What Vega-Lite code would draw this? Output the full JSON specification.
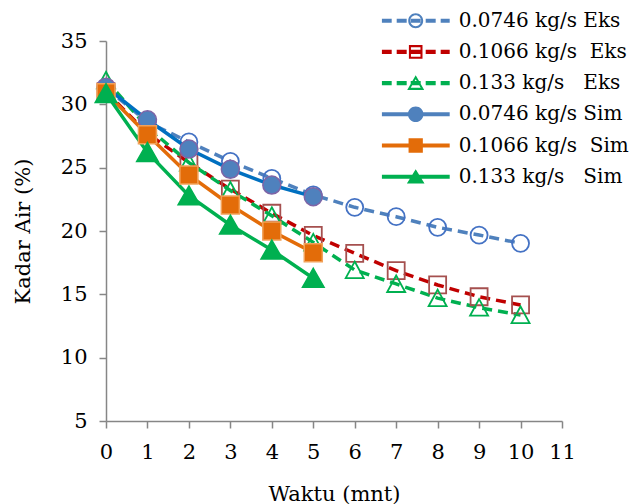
{
  "$schema": "https://vega.github.io/schema/vega-lite/v6.json",
  "width": 456,
  "height": 380,
  "autosize": {"type": "none"},
  "padding": {"left": 106, "top": 41, "right": 82, "bottom": 83},
  "background": "#ffffff",
  "config": {
    "font": "DejaVu Serif",
    "view": {"stroke": null},
    "axis": {
      "grid": false,
      "domainColor": "#868686",
      "domainWidth": 1.5,
      "tickColor": "#868686",
      "tickWidth": 1.5,
      "tickSize": 7,
      "labelFont": "DejaVu Serif",
      "labelFontSize": 21,
      "labelColor": "#000000",
      "titleFont": "DejaVu Serif",
      "titleFontSize": 21,
      "titleFontWeight": "normal",
      "titleColor": "#000000"
    }
  },
  "data": {
    "values": [
      {"t": 0, "kadar": 31.3, "series": "0.0746 kg/s Eks", "kind": "Eks"},
      {"t": 1, "kadar": 28.6, "series": "0.0746 kg/s Eks", "kind": "Eks"},
      {"t": 2, "kadar": 27.03, "series": "0.0746 kg/s Eks", "kind": "Eks"},
      {"t": 3, "kadar": 25.5, "series": "0.0746 kg/s Eks", "kind": "Eks"},
      {"t": 4, "kadar": 24.15, "series": "0.0746 kg/s Eks", "kind": "Eks"},
      {"t": 5, "kadar": 22.85, "series": "0.0746 kg/s Eks", "kind": "Eks"},
      {"t": 6, "kadar": 21.87, "series": "0.0746 kg/s Eks", "kind": "Eks"},
      {"t": 7, "kadar": 21.13, "series": "0.0746 kg/s Eks", "kind": "Eks"},
      {"t": 8, "kadar": 20.29, "series": "0.0746 kg/s Eks", "kind": "Eks"},
      {"t": 9, "kadar": 19.68, "series": "0.0746 kg/s Eks", "kind": "Eks"},
      {"t": 10, "kadar": 19.03, "series": "0.0746 kg/s Eks", "kind": "Eks"},
      {"t": 0, "kadar": 31.0, "series": "0.1066 kg/s Eks", "kind": "Eks"},
      {"t": 1, "kadar": 27.7, "series": "0.1066 kg/s Eks", "kind": "Eks"},
      {"t": 2, "kadar": 25.4, "series": "0.1066 kg/s Eks", "kind": "Eks"},
      {"t": 3, "kadar": 23.3, "series": "0.1066 kg/s Eks", "kind": "Eks"},
      {"t": 4, "kadar": 21.4, "series": "0.1066 kg/s Eks", "kind": "Eks"},
      {"t": 5, "kadar": 19.65, "series": "0.1066 kg/s Eks", "kind": "Eks"},
      {"t": 6, "kadar": 18.24, "series": "0.1066 kg/s Eks", "kind": "Eks"},
      {"t": 7, "kadar": 16.87, "series": "0.1066 kg/s Eks", "kind": "Eks"},
      {"t": 8, "kadar": 15.74, "series": "0.1066 kg/s Eks", "kind": "Eks"},
      {"t": 9, "kadar": 14.81, "series": "0.1066 kg/s Eks", "kind": "Eks"},
      {"t": 10, "kadar": 14.16, "series": "0.1066 kg/s Eks", "kind": "Eks"},
      {"t": 0, "kadar": 31.9, "series": "0.133 kg/s Eks", "kind": "Eks"},
      {"t": 1, "kadar": 28.2, "series": "0.133 kg/s Eks", "kind": "Eks"},
      {"t": 2, "kadar": 25.4, "series": "0.133 kg/s Eks", "kind": "Eks"},
      {"t": 3, "kadar": 23.2, "series": "0.133 kg/s Eks", "kind": "Eks"},
      {"t": 4, "kadar": 21.2, "series": "0.133 kg/s Eks", "kind": "Eks"},
      {"t": 5, "kadar": 19.1, "series": "0.133 kg/s Eks", "kind": "Eks"},
      {"t": 6, "kadar": 16.92, "series": "0.133 kg/s Eks", "kind": "Eks"},
      {"t": 7, "kadar": 15.82, "series": "0.133 kg/s Eks", "kind": "Eks"},
      {"t": 8, "kadar": 14.7, "series": "0.133 kg/s Eks", "kind": "Eks"},
      {"t": 9, "kadar": 13.95, "series": "0.133 kg/s Eks", "kind": "Eks"},
      {"t": 10, "kadar": 13.37, "series": "0.133 kg/s Eks", "kind": "Eks"},
      {"t": 0, "kadar": 31.35, "series": "0.0746 kg/s Sim", "kind": "Sim"},
      {"t": 1, "kadar": 28.78, "series": "0.0746 kg/s Sim", "kind": "Sim"},
      {"t": 2, "kadar": 26.47, "series": "0.0746 kg/s Sim", "kind": "Sim"},
      {"t": 3, "kadar": 24.87, "series": "0.0746 kg/s Sim", "kind": "Sim"},
      {"t": 4, "kadar": 23.63, "series": "0.0746 kg/s Sim", "kind": "Sim"},
      {"t": 5, "kadar": 22.71, "series": "0.0746 kg/s Sim", "kind": "Sim"},
      {"t": 0, "kadar": 30.92, "series": "0.1066 kg/s Sim", "kind": "Sim"},
      {"t": 1, "kadar": 27.6, "series": "0.1066 kg/s Sim", "kind": "Sim"},
      {"t": 2, "kadar": 24.42, "series": "0.1066 kg/s Sim", "kind": "Sim"},
      {"t": 3, "kadar": 22.05, "series": "0.1066 kg/s Sim", "kind": "Sim"},
      {"t": 4, "kadar": 20.0, "series": "0.1066 kg/s Sim", "kind": "Sim"},
      {"t": 5, "kadar": 18.29, "series": "0.1066 kg/s Sim", "kind": "Sim"},
      {"t": 0, "kadar": 30.85, "series": "0.133 kg/s Sim", "kind": "Sim"},
      {"t": 1, "kadar": 26.2, "series": "0.133 kg/s Sim", "kind": "Sim"},
      {"t": 2, "kadar": 22.78, "series": "0.133 kg/s Sim", "kind": "Sim"},
      {"t": 3, "kadar": 20.47, "series": "0.133 kg/s Sim", "kind": "Sim"},
      {"t": 4, "kadar": 18.5, "series": "0.133 kg/s Sim", "kind": "Sim"},
      {"t": 5, "kadar": 16.27, "series": "0.133 kg/s Sim", "kind": "Sim"}
    ]
  },
  "resolve": {"scale": {"stroke": "independent", "shape": "independent"}},
  "encoding": {
    "x": {
      "field": "t",
      "type": "quantitative",
      "scale": {"domain": [0, 11], "nice": false, "zero": false},
      "axis": {
        "title": "Waktu (mnt)",
        "values": [0, 1, 2, 3, 4, 5, 6, 7, 8, 9, 10, 11],
        "labelPadding": 13,
        "titlePadding": 21,
        "labelFlush": false
      }
    },
    "y": {
      "field": "kadar",
      "type": "quantitative",
      "scale": {"domain": [5, 35], "nice": false, "zero": false},
      "axis": {
        "title": "Kadar Air (%)",
        "values": [5, 10, 15, 20, 25, 30, 35],
        "labelPadding": 12,
        "titlePadding": 27,
        "labelFlush": false
      }
    }
  },
  "layer": [
    {
      "transform": [{"filter": {"field": "kind", "equal": "Eks"}}],
      "mark": {"type": "line", "strokeWidth": 3.5, "strokeDash": [10, 6]},
      "encoding": {
        "stroke": {
          "field": "series",
          "type": "nominal",
          "scale": {
            "domain": ["0.0746 kg/s Eks", "0.1066 kg/s Eks", "0.133 kg/s Eks"],
            "range": ["#4F81BD", "#C00000", "#00B050"]
          },
          "legend": null
        }
      }
    },
    {
      "transform": [{"filter": {"field": "kind", "equal": "Eks"}}],
      "mark": {"type": "point", "filled": false, "size": 289, "strokeWidth": 1.8, "opacity": 1},
      "encoding": {
        "stroke": {
          "field": "series",
          "type": "nominal",
          "scale": {
            "domain": ["0.0746 kg/s Eks", "0.1066 kg/s Eks", "0.133 kg/s Eks"],
            "range": ["#4472C4", "#A5504F", "#00B050"]
          },
          "legend": null
        },
        "shape": {
          "field": "series",
          "type": "nominal",
          "scale": {
            "domain": ["0.0746 kg/s Eks", "0.1066 kg/s Eks", "0.133 kg/s Eks"],
            "range": ["circle", "square", "M0,-1L1.06,0.95L-1.06,0.95Z"]
          },
          "legend": null
        }
      }
    },
    {
      "transform": [{"filter": {"field": "kind", "equal": "Sim"}}],
      "mark": {"type": "line", "strokeWidth": 3.5},
      "encoding": {
        "stroke": {
          "field": "series",
          "type": "nominal",
          "scale": {
            "domain": ["0.0746 kg/s Sim", "0.1066 kg/s Sim", "0.133 kg/s Sim"],
            "range": ["#0070C0", "#E36C09", "#00B050"]
          },
          "legend": null
        }
      }
    },
    {
      "transform": [{"filter": {"field": "kind", "equal": "Sim"}}],
      "mark": {"type": "point", "filled": true, "size": 324, "strokeWidth": 1.5, "opacity": 1},
      "encoding": {
        "fill": {
          "field": "series",
          "type": "nominal",
          "scale": {
            "domain": ["0.0746 kg/s Eks", "0.1066 kg/s Eks", "0.133 kg/s Eks", "0.0746 kg/s Sim", "0.1066 kg/s Sim", "0.133 kg/s Sim"],
            "range": ["#4F81BD", "#C00000", "#00B050", "#4F81BD", "#E36C09", "#00B050"]
          },
          "legend": {
            "orient": "none",
            "legendX": 275.7,
            "legendY": -35.8,
            "padding": 0,
            "title": null,
            "symbolType": {"expr": "['M-1,-0.06H-0.706V0.06H-1Z M-0.559,-0.06H-0.265V0.06H-0.559Z M-0.147,-0.06H0.147V0.06H-0.147Z M0.294,-0.06H0.588V0.06H0.294Z M0.735,-0.06H1V0.06H0.735Z M0.22,0A0.22,0.22 0 1,1 -0.22,0A0.22,0.22 0 1,1 0.22,0Z M0.16,0A0.16,0.16 0 1,0 -0.16,0A0.16,0.16 0 1,0 0.16,0Z', 'M-1,-0.06H-0.706V0.06H-1Z M-0.559,-0.06H-0.265V0.06H-0.559Z M-0.147,-0.06H0.147V0.06H-0.147Z M0.294,-0.06H0.588V0.06H0.294Z M0.735,-0.06H1V0.06H0.735Z M-0.2,-0.2H0.2V0.2H-0.2Z M-0.14,-0.14V0.14H0.14V-0.14Z', 'M-1,-0.06H-0.706V0.06H-1Z M-0.559,-0.06H-0.265V0.06H-0.559Z M-0.147,-0.06H0.147V0.06H-0.147Z M0.294,-0.06H0.588V0.06H0.294Z M0.735,-0.06H1V0.06H0.735Z M0,-0.23L0.25,0.2L-0.25,0.2Z M0,-0.111L-0.146,0.14L0.146,0.14Z', 'M-1,-0.06H1V0.06H-1Z M0.23,0A0.23,0.23 0 1,1 -0.23,0A0.23,0.23 0 1,1 0.23,0Z', 'M-1,-0.06H1V0.06H-1Z M-0.21,-0.21H0.21V0.21H-0.21Z', 'M-1,-0.06H1V0.06H-1Z M0,-0.22L0.26,0.2L-0.26,0.2Z'][datum.index]"},
            "symbolSize": 4624,
            "symbolStrokeWidth": 0,
            "symbolStrokeColor": "transparent",
            "symbolOpacity": 1,
            "clipHeight": 31,
            "rowPadding": 0.2,
            "labelFont": "DejaVu Serif",
            "labelFontSize": 20,
            "labelColor": "#000000",
            "labelOffset": 9,
            "labelLimit": 400,
            "labelExpr": "replace(replace(datum.label, '1066 kg/s ', '1066 kg/s\u00a0 '), '133 kg/s ', '133 kg/s\u00a0\u00a0 ')"
          }
        },
        "stroke": {
          "field": "series",
          "type": "nominal",
          "scale": {
            "domain": ["0.0746 kg/s Sim", "0.1066 kg/s Sim", "0.133 kg/s Sim"],
            "range": ["#7E64A6", "#F2A25A", "#00B050"]
          },
          "legend": null
        },
        "shape": {
          "field": "series",
          "type": "nominal",
          "scale": {
            "domain": ["0.133 kg/s Sim", "0.1066 kg/s Sim", "0.0746 kg/s Sim"],
            "range": ["M0,-1.1L1.2,1L-1.2,1Z", "square", "circle"]
          },
          "legend": null
        }
      }
    }
  ]
}
